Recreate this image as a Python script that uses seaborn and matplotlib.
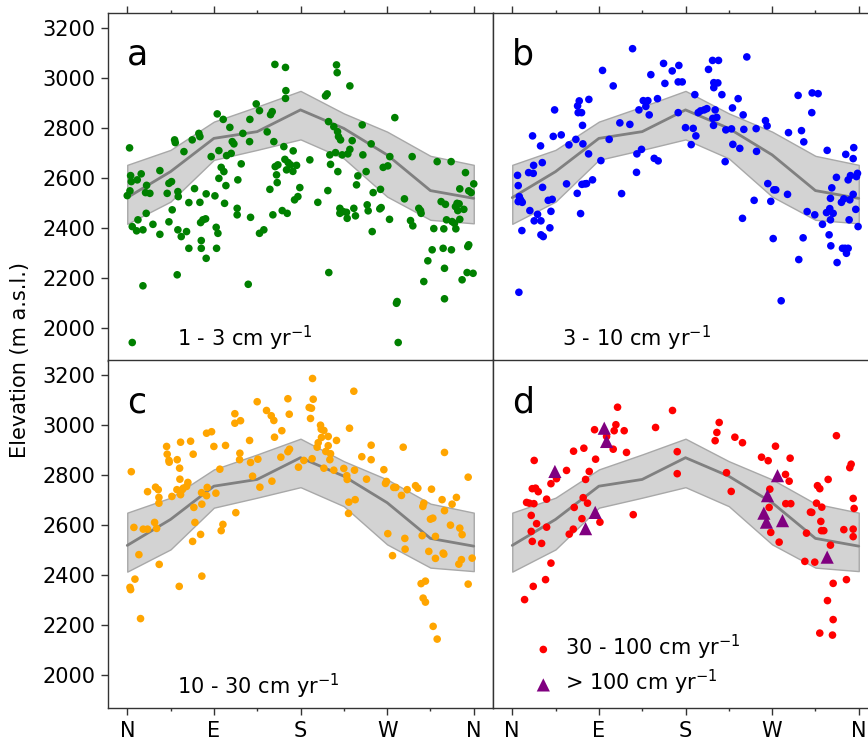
import matplotlib
matplotlib.use('Agg')
import matplotlib.pyplot as plt
from matplotlib.ticker import MultipleLocator
import seaborn as sns

# azimuth bins and the elevation envelope (same in every panel)
bins = [0, 45, 90, 135, 180, 225, 270, 315, 360]
env_mean = [2520, 2624, 2757, 2784, 2871, 2797, 2691, 2548, 2517]
env_upper = [2651, 2711, 2824, 2884, 2947, 2857, 2784, 2687, 2651]
env_lower = [2415, 2504, 2671, 2711, 2753, 2677, 2524, 2431, 2417]

tick_pos = [0, 90, 180, 270, 360]
tick_lab = ['N', 'E', 'S', 'W', 'N']

# a: 1 - 3 cm/yr
a_az = [2.4, 0, 2.8, 3.5, 4.2, 5.2, 5.2, 10.4, 11.1, 9.7,
        14.5, 16.3, 16.3, 19.0, 19.7, 20.1, 23.5, 26.7, 33.9, 33.9,
        41.5, 43.3, 43.3, 46.0, 46.7, 49.2, 49.9, 51.9, 52.6, 52.6,
        53.0, 56.1, 58.9, 61.6, 64.0, 64.0, 67.5, 69.9, 74.4, 75.5,
        75.5, 76.2, 76.9, 76.9, 78.6, 81.4, 82.0, 82.0, 87.2, 91.1,
        92.4, 92.8, 93.5, 94.2, 95.2, 95.2, 97.6, 99.7, 100.4, 101.1,
        102.5, 103.2, 106.6, 108.0, 109.1, 110.8, 114.2, 114.2, 114.9, 118.4,
        120.1, 125.7, 127.1, 127.4, 128.1, 134.0, 137.4, 137.4, 141.9, 145.4,
        148.2, 148.9, 150.6, 151.3, 152.3, 153.4, 153.7, 155.1, 155.8, 156.5,
        161.0, 162.7, 163.8, 164.4, 164.4, 164.8, 165.5, 166.2, 167.2, 169.6,
        172.1, 172.4, 173.8, 175.9, 177.3, 179.3, 189.7, 198.0, 206.0, 207.7,
        208.4, 209.1, 209.4, 210.5, 211.2, 214.6, 216.4, 217.4, 218.1, 218.5,
        218.8, 219.5, 220.9, 220.9, 221.6, 223.3, 224.3, 227.8, 228.5, 229.2,
        231.3, 231.3, 233.7, 235.4, 237.1, 238.2, 239.6, 244.1, 244.8, 248.2,
        249.3, 250.3, 253.4, 254.5, 255.5, 262.4, 263.1, 263.8, 265.9, 270.7,
        272.5, 272.8, 278.0, 279.7, 280.4, 281.5, 288.0, 294.3, 296.0, 296.7,
        302.9, 304.7, 305.3, 308.1, 312.3, 316.8, 318.5, 322.0, 326.1, 328.2,
        328.9, 329.6, 329.6, 330.6, 331.7, 336.5, 336.8, 337.5, 340.0, 341.0,
        341.4, 342.7, 343.4, 344.8, 345.5, 345.5, 347.9, 349.7, 351.4, 353.1,
        353.8, 354.8, 354.8, 357.3, 359.3, 360.0]
a_el = [2719, 2528, 2547, 2608, 2584, 2404, 1940, 2591, 2431, 2387,
        2615, 2391, 2167, 2540, 2457, 2569, 2537, 2413, 2628, 2373,
        2537, 2423, 2577, 2584, 2471, 2751, 2740, 2211, 2391, 2544,
        2524, 2364, 2704, 2384, 2500, 2317, 2751, 2556, 2777, 2764,
        2501, 2420, 2317, 2348, 2431, 2435, 2277, 2535, 2684, 2527,
        2401, 2317, 2855, 2377, 2597, 2708, 2641, 2833, 2624, 2497,
        2568, 2688, 2801, 2697, 2744, 2735, 2477, 2451, 2591, 2655,
        2777, 2173, 2744, 2833, 2441, 2895, 2868, 2377, 2391, 2783,
        2553, 2852, 2864, 2451, 2744, 3053, 2644, 2611, 2580, 2651,
        2468, 2724, 2673, 3041, 2917, 2948, 2631, 2457, 2660, 2651,
        2625, 2707, 2511, 2649, 2524, 2560, 2671, 2501, 2927, 2935,
        2548, 2824, 2220, 2691, 2653, 2804, 2700, 3051, 3020, 2784,
        2624, 2764, 2477, 2457, 2751, 2691, 2464, 2461, 2437, 2695,
        2967, 2713, 2748, 2477, 2447, 2571, 2607, 2811, 2691, 2624,
        2491, 2467, 2735, 2384, 2540, 2475, 2553, 2480, 2641, 2647,
        2433, 2684, 2840, 2097, 2104, 1940, 2515, 2428, 2684, 2407,
        2477, 2468, 2457, 2184, 2267, 2311, 2396, 2664, 2504, 2317,
        2395, 2237, 2115, 2493, 2431, 2664, 2311, 2424, 2417, 2484,
        2395, 2497, 2468, 2495, 2433, 2555, 2191, 2473, 2620, 2220,
        2324, 2331, 2547, 2540, 2217, 2575]

# b: 3 - 10 cm/yr
b_az = [6.9, 10.0, 6.2, 5.5, 7.3, 6.2, 8.7, 10.4, 18.3, 17.0,
        21.8, 21.1, 22.2, 22.8, 26.3, 29.4, 29.8, 31.2, 31.5, 29.8,
        32.2, 37.4, 39.1, 40.2, 41.5, 42.6, 44.0, 50.9, 56.4, 58.9,
        66.1, 67.5, 67.9, 68.5, 69.6, 71.0, 72.0, 72.4, 73.0, 73.4,
        75.5, 77.2, 79.3, 79.6, 83.4, 92.1, 93.8, 100.7, 104.9, 111.8,
        113.6, 122.2, 125.0, 129.1, 129.5, 131.6, 134.3, 136.1, 138.8, 140.9,
        142.3, 144.0, 147.5, 151.6, 150.9, 157.2, 158.6, 166.2, 172.4, 172.4,
        173.1, 176.6, 180.0, 185.9, 188.0, 189.7, 190.8, 193.2, 195.6, 199.4,
        202.2, 203.9, 208.1, 208.4, 209.1, 209.4, 209.4, 210.8, 212.5, 213.6,
        214.3, 217.8, 221.2, 221.9, 227.8, 228.8, 229.2, 234.7, 236.4, 239.9,
        239.2, 240.6, 243.7, 251.3, 253.4, 253.8, 263.1, 264.8, 265.5, 268.6,
        271.1, 271.8, 273.8, 279.4, 286.0, 287.0, 297.0, 297.7, 300.5, 302.2,
        302.9, 306.4, 311.2, 311.6, 314.3, 317.8, 322.3, 327.2, 326.5, 329.2,
        329.9, 330.6, 330.6, 331.0, 332.0, 333.4, 336.8, 337.5, 342.0, 344.5,
        343.1, 345.8, 346.5, 347.2, 349.0, 350.0, 349.0, 350.7, 351.4, 354.2,
        354.8, 354.2, 356.9, 358.7, 359.3, 357.6]
b_el = [2141, 2388, 2568, 2609, 2524, 2504, 2511, 2501, 2468, 2620,
        2617, 2767, 2649, 2427, 2453, 2727, 2427, 2660, 2561, 2371,
        2364, 2509, 2399, 2465, 2513, 2765, 2871, 2771, 2575, 2731,
        2753, 2537, 2887, 2860, 2907, 2456, 2860, 2573, 2809, 2735,
        2575, 2576, 2695, 2913, 2591, 2668, 3029, 2753, 2967, 2819,
        2536, 2813, 3116, 2621, 2695, 2871, 2713, 2908, 2885, 2908,
        2851, 3012, 2677, 2667, 2916, 3057, 2977, 3027, 2860, 2983,
        3049, 2983, 2800, 2732, 2797, 2932, 2767, 2860, 2867, 2871,
        2876, 3033, 3069, 2837, 2809, 2980, 2960, 2871, 2841, 2979,
        3069, 2932, 2664, 2791, 2795, 2879, 2733, 2916, 2717, 2851,
        2437, 2793, 3083, 2509, 2796, 2705, 2828, 2807, 2576, 2505,
        2356, 2551, 2551, 2107, 2533, 2780, 2929, 2272, 2788, 2359,
        2743, 2464, 2860, 2939, 2451, 2936, 2413, 2709, 2460, 2371,
        2476, 2517, 2431, 2327, 2559, 2457, 2601, 2260, 2501, 2515,
        2317, 2317, 2693, 2297, 2317, 2431, 2591, 2511, 2608, 2533,
        2720, 2676, 2473, 2617, 2404, 2604]

# c: 10 - 30 cm/yr
c_az = [4.2, 2.8, 3.5, 6.9, 8.0, 12.1, 13.8, 16.6, 21.1, 21.1,
        28.4, 29.4, 30.5, 32.2, 32.9, 32.9, 33.2, 40.9, 41.5, 43.3,
        43.6, 46.4, 51.9, 54.0, 54.4, 54.7, 55.4, 51.6, 55.4, 57.1,
        58.2, 61.6, 63.0, 65.8, 67.9, 68.5, 69.2, 70.3, 76.2, 77.2,
        77.5, 77.5, 82.4, 82.4, 83.1, 87.6, 90.0, 92.1, 96.2, 97.6,
        99.4, 102.1, 111.8, 111.8, 112.8, 116.7, 117.0, 117.7, 127.1, 128.1,
        130.2, 135.7, 137.8, 135.0, 144.7, 149.6, 150.3, 152.3, 153.0, 160.6,
        159.6, 166.9, 166.9, 168.3, 168.6, 177.9, 183.5, 189.0, 190.4, 191.4,
        192.5, 193.2, 192.1, 197.3, 198.4, 200.8, 201.5, 201.8, 204.3, 204.3,
        206.3, 208.8, 208.8, 210.5, 211.2, 214.6, 217.4, 225.0, 228.1, 228.5,
        230.2, 229.9, 230.9, 235.4, 236.1, 236.8, 243.7, 248.6, 253.4, 253.4,
        266.6, 270.7, 269.3, 268.3, 275.6, 276.9, 279.0, 284.9, 286.7, 288.4,
        288.7, 290.8, 299.5, 301.9, 305.3, 306.4, 307.1, 308.1, 309.8, 307.4,
        309.8, 313.3, 316.1, 315.0, 317.5, 317.8, 320.2, 320.2, 322.0, 327.1,
        328.2, 328.9, 329.6, 329.6, 335.8, 337.5, 342.0, 344.5, 345.5, 347.2,
        347.9, 354.2, 354.2, 358.3]
c_el = [2815, 2352, 2343, 2592, 2385, 2483, 2227, 2585, 2735, 2585,
        2612, 2753, 2588, 2743, 2712, 2689, 2444, 2916, 2885, 2860,
        2853, 2716, 2863, 2356, 2829, 2785, 2933, 2743, 2723, 2743,
        2749, 2756, 2772, 2937, 2536, 2885, 2672, 2612, 2564, 2731,
        2397, 2685, 2719, 2969, 2752, 2975, 2916, 2729, 2825, 2579,
        2604, 2920, 3047, 3009, 2651, 2863, 2889, 3019, 2940, 2852,
        2797, 2865, 2753, 3095, 3060, 3039, 2777, 3020, 2953, 2979,
        2873, 3107, 2895, 3045, 2905, 2833, 2860, 3072, 3028, 3069,
        3188, 3105, 2867, 2913, 2931, 3001, 2985, 2952, 2980, 2829,
        2896, 2956, 2919, 2863, 2887, 2821, 2940, 2828, 2799, 2784,
        2693, 2648, 2989, 3137, 2821, 2703, 2875, 2785, 2921, 2863,
        2823, 2567, 2776, 2768, 2479, 2752, 2752, 2720, 2913, 2548,
        2505, 2743, 2759, 2749, 2367, 2559, 2676, 2689, 2377, 2309,
        2293, 2496, 2745, 2625, 2629, 2196, 2556, 2468, 2145, 2703,
        2489, 2485, 2892, 2659, 2601, 2685, 2712, 2445, 2589, 2463,
        2563, 2793, 2365, 2469]

# d: 30 - 100 cm/yr (dots) and > 100 cm/yr (triangles)
d_az = [12.8, 21.8, 34.6, 40.2, 20.8, 30.5, 19.7, 25.3, 35.7, 19.7,
        22.5, 14.9, 17.7, 20.8, 24.2, 27.0, 35.7, 22.8, 40.2, 46.0,
        56.4, 59.2, 63.4, 64.4, 63.7, 72.4, 73.7, 74.4, 76.2, 78.2,
        80.0, 86.6, 85.5, 91.1, 98.0, 105.9, 107.7, 104.9, 109.4, 116.3,
        118.7, 125.7, 148.9, 166.5, 171.4, 171.4, 210.8, 212.6, 215.0, 222.6,
        227.5, 231.3, 239.2, 259.0, 265.9, 267.6, 266.9, 268.6, 273.5, 277.3,
        283.9, 287.7, 288.7, 284.2, 289.4, 304.0, 305.7, 309.8, 311.2, 314.3,
        316.1, 317.1, 319.5, 320.6, 321.6, 321.3, 323.7, 328.2, 330.6, 327.5,
        333.4, 333.4, 332.7, 319.5, 336.8, 347.2, 344.5, 350.7, 352.1, 354.2,
        355.2, 354.2, 354.2]
d_el = [2303, 2356, 2383, 2449, 2536, 2528, 2576, 2607, 2593, 2640,
        2687, 2692, 2689, 2747, 2749, 2735, 2705, 2860, 2767, 2787,
        2820, 2565, 2585, 2672, 2897, 2627, 2711, 2909, 2784, 2689,
        2816, 2865, 2983, 2613, 2956, 2979, 3003, 2905, 3073, 2979,
        2892, 2643, 2992, 3060, 2895, 2807, 2939, 2972, 3012, 2811,
        2736, 2953, 2931, 2873, 2859, 2745, 2672, 2572, 2917, 2533,
        2804, 2777, 2869, 2687, 2687, 2456, 2569, 2653, 2652, 2453,
        2689, 2759, 2747, 2616, 2673, 2579, 2579, 2784, 2521, 2299,
        2368, 2223, 2161, 2169, 2959, 2383, 2583, 2831, 2845, 2708,
        2668, 2585, 2555]
t_az = [44.3, 95.6, 98.0, 86.2, 76.2, 265.2, 275.6, 261.4, 264.1, 280.8, 327.2]
t_el = [2816, 2989, 2936, 2652, 2587, 2719, 2799, 2649, 2613, 2619, 2473]

sns.set_style('ticks')
plt.rcParams['font.family'] = ['DejaVu Sans']
plt.rcParams['text.color'] = 'black'
plt.rcParams['axes.labelcolor'] = 'black'

fig = plt.figure(figsize=(8.68, 7.41), dpi=100)
W, H = 868.0, 741.0
aw, ah = 385 / W, 347.8 / H
lx, rx = 108 / W, 493 / W
ty, by = 1 - 360.5 / H, 1 - 708.3 / H

panels = [
    ('a', [lx, ty, aw, ah], a_az, a_el, 'green', '1 - 3 cm yr$^{-1}$'),
    ('b', [rx, ty, aw, ah], b_az, b_el, 'blue', '3 - 10 cm yr$^{-1}$'),
    ('c', [lx, by, aw, ah], c_az, c_el, 'orange', '10 - 30 cm yr$^{-1}$'),
    ('d', [rx, by, aw, ah], d_az, d_el, 'red', '30 - 100 cm yr$^{-1}$'),
]

for letter, rect, xs, ys, col, lab in panels:
    ax = fig.add_axes(rect)
    ax.fill_between(bins, env_lower, env_upper, facecolor='#d3d3d3',
                    edgecolor='#a8a8a8', lw=1, zorder=1)
    sns.lineplot(x=bins, y=env_mean, color='#808080', lw=2, ax=ax, zorder=2)
    sns.scatterplot(x=xs, y=ys, color=col, s=30, edgecolor='none', ax=ax,
                    zorder=3, label=lab if letter == 'd' else None)
    if letter == 'd':
        sns.scatterplot(x=t_az, y=t_el, color='purple', marker='^', s=90,
                        edgecolor='none', ax=ax, zorder=4,
                        label='> 100 cm yr$^{-1}$')
        leg = ax.legend(loc='lower left', bbox_to_anchor=(0.082, 0.008),
                        frameon=False, fontsize=15, handlelength=1,
                        handletextpad=0.55, labelspacing=0.3,
                        borderaxespad=0)
        for t in leg.get_texts():
            t.set_color('black')
    else:
        ax.text(0.18, 0.04, lab, transform=ax.transAxes, fontsize=15,
                va='baseline', ha='left', color='black')

    ax.text(0.05, 0.85, letter, transform=ax.transAxes, fontsize=25,
            va='baseline', ha='left', color='black')

    ax.set_xlim(-20, 380)
    ax.set_ylim(1868, 3260)
    ax.set_xticks(tick_pos)
    ax.xaxis.set_minor_locator(MultipleLocator(45))
    ax.set_yticks([2000, 2200, 2400, 2600, 2800, 3000, 3200])
    ax.tick_params(which='major', direction='out', length=5, width=1,
                   color='0.2', labelcolor='black', labelsize=15, pad=4)
    ax.tick_params(which='minor', direction='out', length=2.5, width=1,
                   color='0.2')
    ax.set_xlabel('')
    ax.set_ylabel('')
    for sp in ax.spines.values():
        sp.set_visible(True)
        sp.set_color('0.2')
        sp.set_linewidth(1)

    if letter in ('a', 'b'):
        ax.tick_params(axis='x', which='both', top=True, bottom=False,
                       labeltop=False, labelbottom=False)
    else:
        ax.set_xticklabels(tick_lab)
    if letter in ('b', 'd'):
        ax.tick_params(axis='y', which='both', left=False, labelleft=False)

fig.text(0.023, 0.514, 'Elevation (m a.s.l.)', rotation=90, fontsize=15,
         ha='center', va='center', color='black')

fig.savefig('out.png', dpi=100)
